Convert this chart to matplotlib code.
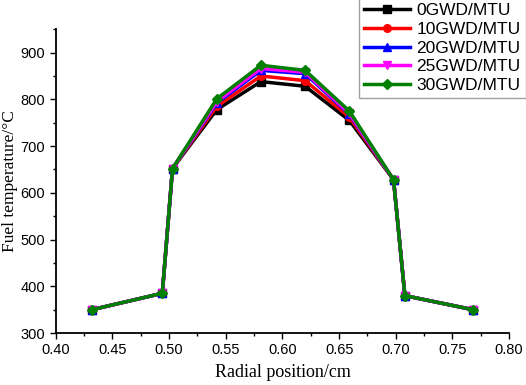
import matplotlib
matplotlib.use("Agg")
import matplotlib.pyplot as plt
from matplotlib.ticker import MultipleLocator

# radial positions (cm)
radius = [0.432, 0.494, 0.503, 0.542, 0.581, 0.620, 0.659, 0.698, 0.708, 0.768]

# fuel temperature (C) for each burnup
t_0 = [350, 385, 652, 778, 838, 828, 755, 628, 380, 350]
t_10 = [350, 385, 652, 785, 850, 840, 762, 628, 380, 350]
t_20 = [350, 385, 652, 792, 862, 855, 768, 628, 380, 350]
t_25 = [350, 385, 652, 795, 866, 858, 770, 628, 380, 350]
t_30 = [350, 385, 652, 801, 873, 862, 775, 628, 380, 350]

labels = ["0GWD/MTU", "10GWD/MTU", "20GWD/MTU", "25GWD/MTU", "30GWD/MTU"]
colors = ["black", "red", "blue", "magenta", "green"]
markers = ["s", "o", "^", "v", "D"]
series = [t_0, t_10, t_20, t_25, t_30]

fig = plt.figure(figsize=(5.26, 3.85), dpi=100)
ax = fig.add_axes([0.106, 0.135, 0.862, 0.789])

handles = []
for vals, lab, c, m in zip(series, labels, colors, markers):
    h, = ax.plot(radius, vals, color=c, marker=m, markersize=5.5, linewidth=2.5, label=lab)
    handles.append(h)

ax.set_xlim(0.40, 0.80)
ax.xaxis.set_major_locator(MultipleLocator(0.05))
ax.xaxis.set_minor_locator(MultipleLocator(0.025))
ax.set_yticks(range(300, 1000, 100))
ax.set_yticklabels([str(v) for v in range(300, 1000, 100)])
ax.yaxis.set_minor_locator(MultipleLocator(50))
ax.set_ylim(300, 950)

for s in ["top", "right"]:
    ax.spines[s].set_visible(False)
for s in ["left", "bottom"]:
    ax.spines[s].set_linewidth(1.3)

ax.tick_params(which="both", direction="out", labelsize=10.5, width=1.0)
ax.tick_params(which="major", length=4)
ax.tick_params(which="minor", length=2)
for t in ax.get_xticklabels() + ax.get_yticklabels():
    t.set_fontfamily("Liberation Sans")

ax.set_xlabel("Radial position/cm", fontsize=13, family="Liberation Serif", labelpad=5)
ax.set_ylabel("Fuel temperature/°C", fontsize=12.5, family="Liberation Serif", labelpad=2)

leg = fig.legend(handles=handles, loc="upper right", bbox_to_anchor=(1.0, 1.005),
                 prop={"family": "Liberation Sans", "size": 12.5}, frameon=True,
                 fancybox=False, borderpad=0.3, labelspacing=0.2, handlelength=2.6,
                 handletextpad=0.4, borderaxespad=0.0)
leg.get_frame().set_edgecolor("#888888")

fig.savefig("out.png", dpi=100)
